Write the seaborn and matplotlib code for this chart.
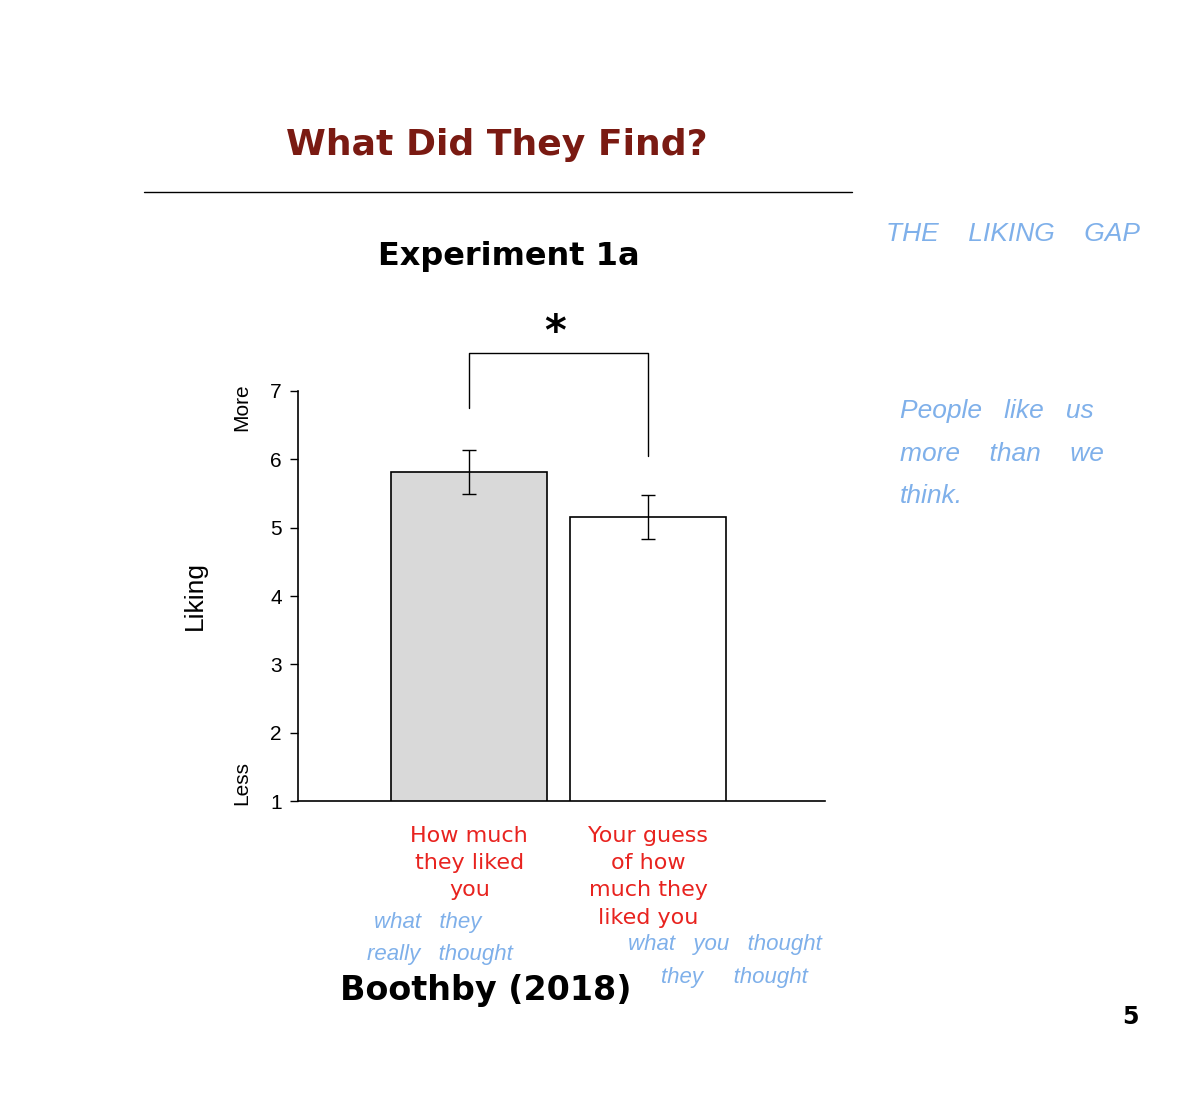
import matplotlib
matplotlib.use("Agg")
import matplotlib.pyplot as plt
import numpy as np
import pandas as pd
import seaborn as sns

conditions = ["How much\nthey liked\nyou", "Your guess\nof how\nmuch they\nliked you"]
liking = [5.82, 5.16]
errors = [0.32, 0.32]
bar_colors = ["#d9d9d9", "white"]
y_ticks = [1, 2, 3, 4, 5, 6, 7]

sns.set_theme(style="white")
plt.rcParams["font.family"] = ["DejaVu Sans"]
plt.rcParams["text.color"] = "black"

fig = plt.figure(figsize=(11.84, 11.07), dpi=100)
ax = fig.add_axes([0.252, 0.2764, 0.445, 0.3704])

df = pd.DataFrame({"cond": conditions, "liking": liking})
sns.barplot(data=df, x="cond", y="liking", hue="cond", palette=bar_colors,
            edgecolor="black", linewidth=1.2, width=0.87, legend=False, ax=ax)
ax.errorbar(range(len(liking)), liking, yerr=errors, fmt="none",
            ecolor="black", elinewidth=1, capsize=5)

ax.set_ylim(1, 7)
ax.set_xlim(-0.955, 1.989)
ax.set_yticks(y_ticks)
ax.set_yticklabels([str(t) for t in y_ticks], fontsize=15,
                   family="Liberation Sans", color="black")
ax.tick_params(axis="y", left=True, length=6, width=1, color="black", pad=6)
ax.tick_params(axis="x", length=0, pad=18)
for lab in ax.get_xticklabels():
    lab.set_color("#e8231f")
    lab.set_fontsize(16)
    lab.set_va("top")
    lab.set_linespacing(1.45)
ax.set_xlabel("")
ax.set_ylabel("")
for side in ["top", "right"]:
    ax.spines[side].set_visible(False)
for side in ["left", "bottom"]:
    ax.spines[side].set_color("black")
    ax.spines[side].set_linewidth(1.2)

# significance bracket
ax.plot([0, 0, 1, 1], [6.75, 7.55, 7.55, 6.05], color="black", lw=1, clip_on=False)
ax.text(0.48, 7.85, "*", ha="center", va="center", fontsize=30, fontweight="bold")

# y annotations
fig.text(0.165, 0.462, "Liking", rotation=90, ha="center", va="center",
         fontsize=19, family="Liberation Sans")
fig.text(0.204, 0.632, "More", rotation=90, ha="center", va="center",
         fontsize=15, family="Liberation Sans")
fig.text(0.204, 0.293, "Less", rotation=90, ha="center", va="center",
         fontsize=15, family="Liberation Sans")

# titles
fig.text(0.42, 0.869, "What Did They Find?", ha="center", va="center",
         fontsize=26, fontweight="bold", color="#7a1a12")
fig.add_artist(plt.Line2D([0.122, 0.72], [0.827, 0.827], color="black", lw=1))
fig.text(0.43, 0.768, "Experiment 1a", ha="center", va="center",
         fontsize=23, fontweight="bold")
fig.text(0.41, 0.105, "Boothby (2018)", ha="center", va="center",
         fontsize=24, fontweight="bold")
fig.text(0.955, 0.081, "5", ha="center", va="center", fontsize=17, fontweight="bold")

# handwritten notes
blue = "#7fb0ea"
hand = dict(color=blue, style="italic", family="Liberation Sans")
fig.text(0.748, 0.782, "THE    LIKING    GAP", fontsize=19, **hand)
fig.text(0.76, 0.622, "People   like   us", fontsize=19, **hand)
fig.text(0.76, 0.584, "more    than    we", fontsize=19, **hand)
fig.text(0.76, 0.546, "think.", fontsize=19, **hand)
fig.text(0.316, 0.162, "what   they", fontsize=16, **hand)
fig.text(0.31, 0.133, "really   thought", fontsize=16, **hand)
fig.text(0.53, 0.142, "what   you   thought", fontsize=16, **hand)
fig.text(0.558, 0.112, "they     thought", fontsize=16, **hand)

fig.savefig("out.png", dpi=100, facecolor="white")
